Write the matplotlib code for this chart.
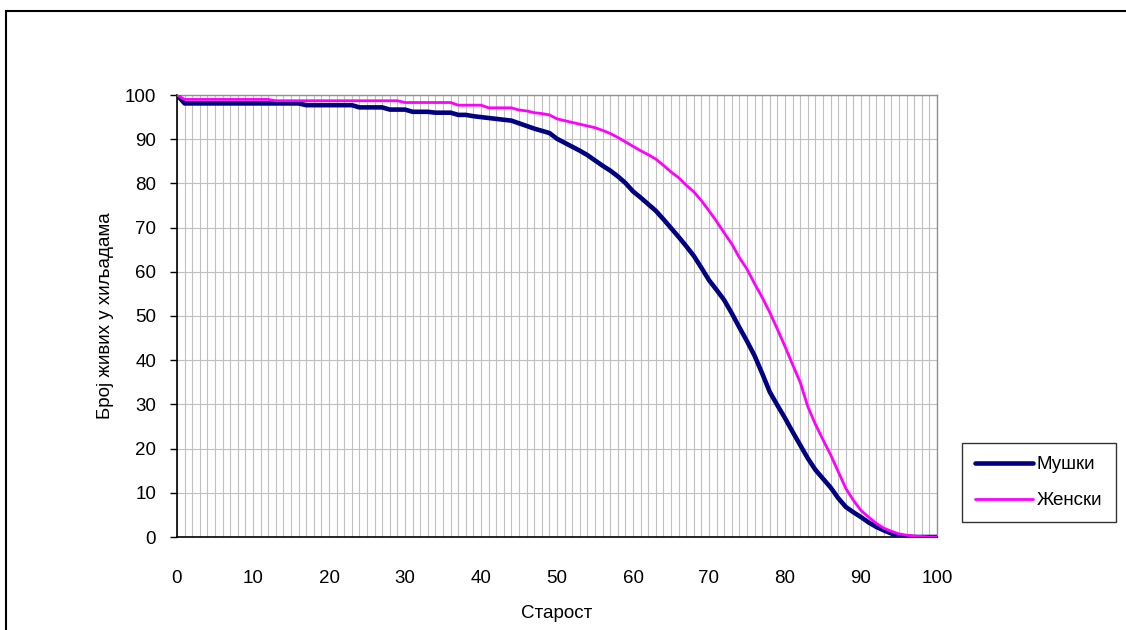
import matplotlib.pyplot as plt
from matplotlib.patches import Rectangle
import numpy as np

plt.rcParams['font.family'] = ['Liberation Sans', 'DejaVu Sans']

# ages 0..100, survivors in thousands
ages = list(range(0, 101))

male = [100, 98.1, 98.1, 98.1, 98.1, 98.1, 98.1, 98.1, 98.1, 98.1,
        98.1, 98.1, 98.1, 98.1, 98.1, 98.1, 98.1, 97.7, 97.7, 97.7,
        97.7, 97.7, 97.7, 97.7, 97.2, 97.2, 97.2, 97.2, 96.7, 96.7,
        96.7, 96.2, 96.2, 96.2, 96.0, 96.0, 96.0, 95.5, 95.5, 95.2,
        95.0, 94.8, 94.6, 94.4, 94.2, 93.6, 93.0, 92.4, 91.9, 91.4,
        90.1, 89.2, 88.3, 87.4, 86.4, 85.2, 84.0, 82.9, 81.6, 80.1,
        78.2, 76.8, 75.3, 73.8, 71.9, 69.9, 67.9, 65.8, 63.6, 60.9,
        58.1, 55.9, 53.6, 50.6, 47.4, 44.3, 41.0, 37.0, 32.8, 29.8,
        26.9, 23.8, 20.8, 17.8, 15.2, 13.2, 11.2, 8.8, 6.8, 5.6,
        4.5, 3.3, 2.3, 1.5, 0.8, 0.3, 0.1, 0, 0, 0,
        0]

female = [100, 99.0, 99.0, 99.0, 99.0, 99.0, 99.0, 99.0, 99.0, 99.0,
          99.0, 99.0, 99.0, 98.7, 98.7, 98.7, 98.7, 98.7, 98.7, 98.7,
          98.7, 98.7, 98.7, 98.7, 98.7, 98.7, 98.7, 98.7, 98.7, 98.7,
          98.3, 98.3, 98.3, 98.3, 98.3, 98.3, 98.3, 97.7, 97.7, 97.7,
          97.7, 97.1, 97.1, 97.1, 97.1, 96.6, 96.4, 96.0, 95.8, 95.5,
          94.6, 94.2, 93.8, 93.4, 93.0, 92.6, 92.0, 91.3, 90.4, 89.4,
          88.4, 87.4, 86.5, 85.5, 84.1, 82.6, 81.3, 79.6, 78.1, 76.1,
          73.8, 71.4, 68.8, 66.3, 63.2, 60.6, 57.3, 54.2, 50.8, 47.0,
          43.1, 39.0, 35.0, 29.5, 25.5, 22.0, 18.6, 14.8, 11.0, 8.3,
          6.0, 4.5, 3.1, 2.0, 1.3, 0.7, 0.4, 0.2, 0.1, 0,
          0]

W, H = 1126, 630
FS = 13.5
fig = plt.figure(figsize=(W / 100, H / 100), dpi=100)

# outer chart frame (runs off the right and bottom edges)
fig.patches.append(Rectangle((6 / W, -0.05), 1.2, 1 - 11 / H + 0.05,
                             transform=fig.transFigure, fill=False,
                             edgecolor='black', linewidth=1.5))

ax = fig.add_axes([177 / W, 1 - 537 / H, 760 / W, 442 / H])

ax.plot(ages, male, color='#000080', linewidth=3.3, label='Мушки',
        solid_capstyle='round', zorder=3)
ax.plot(ages, female, color='#FF00FF', linewidth=2.0, label='Женски',
        solid_capstyle='round', zorder=4)

ax.set_xlim(0, 100)
ax.set_ylim(0, 100)
ax.set_xticks(np.arange(0, 101, 10))
ax.set_xticks(np.arange(0, 101, 1), minor=True)
ax.set_yticks(np.arange(0, 101, 10))

ax.grid(True, which='both', axis='x', color='#c0c0c0', linewidth=0.8)
ax.grid(True, which='major', axis='y', color='#c0c0c0', linewidth=0.8)
ax.set_axisbelow(True)

ax.tick_params(axis='x', which='both', length=0, pad=24, labelsize=FS)
ax.tick_params(axis='y', which='major', length=5, width=1, direction='out',
               pad=10, labelsize=FS)

for side in ('top', 'right'):
    ax.spines[side].set_color('#909090')
    ax.spines[side].set_linewidth(1)
for side in ('left', 'bottom'):
    ax.spines[side].set_color('black')
    ax.spines[side].set_linewidth(1.2)

ax.set_xlabel('Старост', fontsize=FS, labelpad=13)
ax.set_ylabel('Број живих у хиљадама', fontsize=FS, labelpad=8)

leg = ax.legend(loc='upper left', bbox_to_anchor=(962 / W, 1 - 443 / H),
                bbox_transform=fig.transFigure, fontsize=FS,
                frameon=True, fancybox=False, handlelength=3.1,
                handletextpad=0.2, borderpad=0.7, labelspacing=1.0,
                borderaxespad=0)
leg.get_frame().set_edgecolor('black')
leg.get_frame().set_linewidth(1)

fig.savefig('out.png', dpi=100)
